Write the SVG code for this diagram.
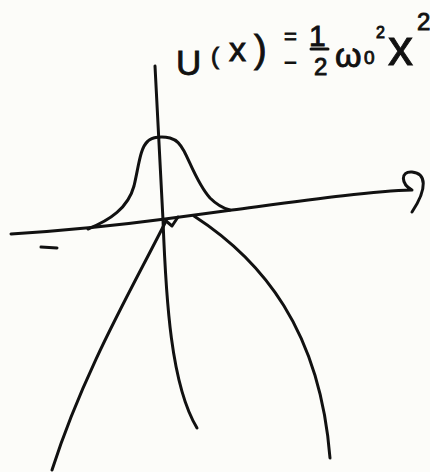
<svg xmlns="http://www.w3.org/2000/svg" width="430" height="472" viewBox="0 0 430 472">
<style>
.ink{fill:none;stroke:#111;stroke-width:3;stroke-linecap:round;stroke-linejoin:round}
.txt{font-family:"Liberation Sans","DejaVu Sans",sans-serif;fill:#111;stroke:#111;stroke-width:0.9}
</style>
<rect width="430" height="472" fill="#fcfcf9"/>
<g id="label">
<text class="txt"><tspan x="176" y="75" font-size="35">U</tspan><tspan x="211" y="64" font-size="24">(</tspan><tspan x="229" y="61" font-size="34">x</tspan><tspan x="254" y="62" font-size="38">)</tspan><tspan x="284" y="44" font-size="22">=</tspan><tspan x="284" y="70" font-size="22">−</tspan><tspan x="309" y="46" font-size="30">1</tspan><tspan x="314" y="75" font-size="24">2</tspan><tspan x="335" y="67" font-size="34">ω</tspan><tspan x="364" y="64" font-size="19">0</tspan><tspan x="376" y="38" font-size="16">2</tspan><tspan x="388" y="65" font-size="50">x</tspan><tspan x="417" y="30" font-size="24">2</tspan></text>
<line class="ink" x1="311" y1="49" x2="328" y2="49" stroke-width="2.5"/>
</g>
<g id="axes">
<path id="x-axis" class="ink" d="M 11 234 Q 90 229 165 219 L 232 210 C 300 201 370 191 412 190 C 401 184 400 171 412 172 C 426 173 428 188 412 212"/>
<path id="y-axis" class="ink" d="M 155 66 L 163 220 C 166 300 171 385 197 428"/>
<line class="ink" x1="41" y1="247" x2="57" y2="248"/>
</g>
<g id="wavefunction">
<path class="ink" d="M 88 229 C 110 220 128 208 134 186 C 139 165 140 148 148 141 C 152 137 162 136 170 138 C 177 140 180 144 184 151 C 190 162 198 185 210 198 C 216 204 222 208 230 210"/>
</g>
<g id="potential">
<path class="ink" d="M 166 221 C 134 285 84 370 52 470"/>
<path class="ink" d="M 166 221 L 172 226 L 178 217"/>
<path class="ink" d="M 194 216 C 262 260 320 330 330 458"/>
</g>
</svg>
